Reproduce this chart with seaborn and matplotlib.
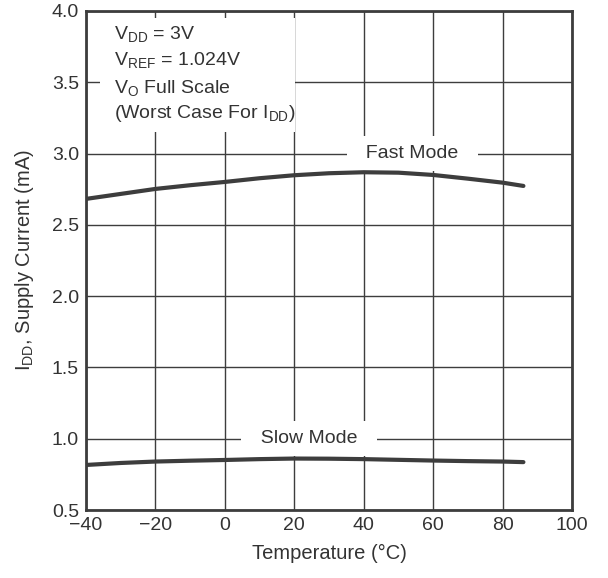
import numpy as np
import pandas as pd
import seaborn as sns
import matplotlib.pyplot as plt
from matplotlib.patches import Rectangle

temps = [-40, -30, -20, -10, 0, 10, 20, 30, 40, 50, 60, 70, 80, 86]
fast_ma = [2.682, 2.717, 2.752, 2.778, 2.801, 2.827, 2.848, 2.862, 2.869,
           2.866, 2.850, 2.824, 2.796, 2.773]
slow_ma = [0.816, 0.830, 0.840, 0.846, 0.851, 0.857, 0.861, 0.860, 0.857,
           0.852, 0.847, 0.843, 0.840, 0.836]

df = pd.DataFrame({
    "Temperature": temps * 2,
    "Current": fast_ma + slow_ma,
    "Mode": ["Fast Mode"] * len(temps) + ["Slow Mode"] * len(temps),
})

sns.set_theme(style="white")
plt.rcParams["font.family"] = ["Liberation Sans", "DejaVu Sans"]
plt.rcParams["axes.unicode_minus"] = True

fig = plt.figure(figsize=(6.08, 5.78), dpi=100)
ax = fig.add_axes([0.1414, 0.1176, 0.7994, 0.8634])

ink = "#3d3d3d"
txt = "#333333"
sns.lineplot(data=df, x="Temperature", y="Current", hue="Mode",
             palette=[ink, ink], linewidth=3, legend=False, ax=ax,
             zorder=3)

xt = np.arange(-40, 101, 20)
yt = np.arange(0.5, 4.01, 0.5)
ax.set_xlim(-40, 100)
ax.set_ylim(0.5, 4.0)
ax.set_xticks(xt)
ax.set_yticks(yt)
ax.set_xticklabels([str(int(t)).replace("-", "\u2212") for t in xt])
ax.set_yticklabels([f"{v:.1f}" for v in yt])
ax.grid(True, color=ink, linewidth=1.0)
ax.tick_params(labelsize=14, colors=txt, length=0, pad=5)
for s in ax.spines.values():
    s.set_color(ink)
    s.set_linewidth(2)

ax.set_xlabel("Temperature (\u00b0C)", fontsize=14.5, color=txt, labelpad=7)
ax.set_ylabel("$\\mathregular{I_{DD}}$, Supply Current (mA)", fontsize=14.5,
              color=txt, labelpad=11)

box = dict(facecolor="white", edgecolor="none", boxstyle="square,pad=0.45")
ax.text(54, 3.0, "  Fast Mode  ", ha="center", va="center", fontsize=14,
        color=txt, bbox=box, zorder=2.5)
ax.text(24.3, 1.0, "  Slow Mode  ", ha="center", va="center", fontsize=14,
        color=txt, bbox=box, zorder=2.5)

# white panel behind the test conditions
ax.add_patch(Rectangle((-36, 3.15), 56.2, 0.8, facecolor="white",
                       edgecolor="none", zorder=2.5))
cond_lines = ["$\\mathregular{V_{DD}}$ = 3V",
              "$\\mathregular{V_{REF}}$ = 1.024V",
              "$\\mathregular{V_{O}}$ Full Scale",
              "(Worst Case For $\\mathregular{I_{DD}}$)"]
cond_y = [3.80, 3.621, 3.425, 3.25]
for line, y in zip(cond_lines, cond_y):
    ax.text(-31.9, y, line, ha="left", va="baseline", fontsize=14,
            color=txt, zorder=4)

fig.savefig("out.png", dpi=100)
